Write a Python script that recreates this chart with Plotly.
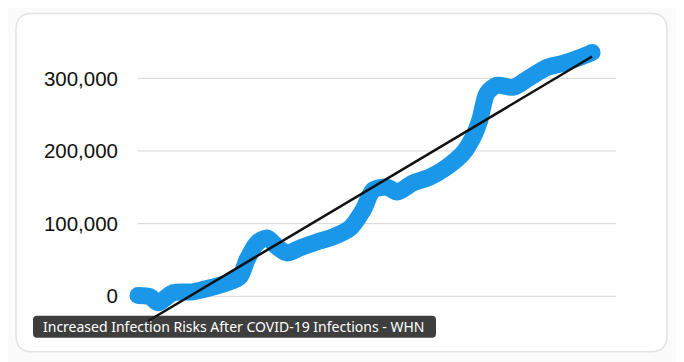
import plotly.graph_objects as go

# ---- data ----
weeks = [0, 2.5, 4.2, 7.3, 11.5, 15.1, 18.6, 21.3, 22.8, 24.9, 27.0, 29.1, 31.2, 33.9,
         37.4, 40.8, 44.4, 47.1, 49.2, 52.1, 54.2, 57.5, 61.1, 64.6, 68.0, 70.1, 71.5,
         73.0, 75.1, 78.5, 82.0, 85.6, 88.9, 92.5, 95.0]
cases = [1000, -500, -9000, 4800, 6200, 11700, 18500, 26800, 50100, 73500, 80300, 68000,
         59700, 66600, 74800, 81700, 94000, 118800, 146200, 150300, 143500, 155800, 164100,
         177800, 197000, 219000, 242300, 279400, 290400, 287700, 301400, 315100, 320600,
         328800, 335600]
trend_x = [2.1, 95.0]
trend_y = [-34000, 330000]
tick_vals = [0, 100000, 200000, 300000]
tick_text = ["0", "100,000", "200,000", "300,000"]
caption = "Increased Infection Risks After COVID-19 Infections - WHN"

# ---- layout geometry (screen pixels; page body adds an 8px offset) ----
OFF = 8
W, H = 684 - OFF, 362 - OFF
L, R = 125 - OFF, 630 - OFF          # plot area left/right (figure px)
T, B = 41.6 - OFF, 329.3 - OFF       # plot area top/bottom (figure px)
X0PX, XPX = 138 - OFF, 4.78          # px of x=0, px per unit
x_range = [(L - X0PX) / XPX, (R - X0PX) / XPX]
y_range = [-45000, 350000]


def px(xp):
    return (xp - OFF - L) / (R - L)


def py(yp):
    return (B - (yp - OFF)) / (B - T)


def rounded_rect(x0, y0, x1, y1, r):
    pts = [
        f"M {px(x0 + r)} {py(y0)}",
        f"L {px(x1 - r)} {py(y0)}",
        f"Q {px(x1)} {py(y0)} {px(x1)} {py(y0 + r)}",
        f"L {px(x1)} {py(y1 - r)}",
        f"Q {px(x1)} {py(y1)} {px(x1 - r)} {py(y1)}",
        f"L {px(x0 + r)} {py(y1)}",
        f"Q {px(x0)} {py(y1)} {px(x0)} {py(y1 - r)}",
        f"L {px(x0)} {py(y0 + r)}",
        f"Q {px(x0)} {py(y0)} {px(x0 + r)} {py(y0)}",
        "Z",
    ]
    return " ".join(pts)


BLUE = "#1a97e8"
fig = go.Figure()

msize = [17] + [0] * (len(cases) - 2) + [17]
fig.add_trace(go.Scatter(
    x=weeks, y=cases, mode="lines+markers",
    line=dict(color=BLUE, width=17, shape="spline", smoothing=0.8),
    marker=dict(size=msize, color=BLUE, opacity=1, line=dict(width=0)),
    hoverinfo="skip", showlegend=False,
))
fig.add_trace(go.Scatter(
    x=trend_x, y=trend_y, mode="lines",
    line=dict(color="#111111", width=2.5),
    hoverinfo="skip", showlegend=False,
))

shapes = []
# card
shapes.append(dict(type="path", xref="paper", yref="paper",
                   path=rounded_rect(16, 13, 667, 352, 16),
                   fillcolor="white", line=dict(color="#e3e3e6", width=1.5),
                   layer="below"))
# gridlines
for v in tick_vals:
    shapes.append(dict(type="line", xref="x", yref="y", x0=0, x1=100, y0=v, y1=v,
                       line=dict(color="#d6d6d6", width=1), layer="below"))
# caption box
shapes.append(dict(type="path", xref="paper", yref="paper",
                   path=rounded_rect(33, 316, 436, 338, 4),
                   fillcolor="rgba(28,28,28,0.85)", line=dict(width=0),
                   layer="above"))

fig.update_layout(
    width=W, height=H,
    margin=dict(l=L, r=W - R, t=T, b=H - B, pad=0),
    paper_bgcolor="#fbfbfb", plot_bgcolor="rgba(0,0,0,0)",
    shapes=shapes,
    xaxis=dict(range=x_range, showgrid=False, zeroline=False, showticklabels=False,
               showline=False, fixedrange=True),
    yaxis=dict(range=y_range, tickvals=tick_vals, ticktext=tick_text,
               showgrid=False, zeroline=False, showline=False, ticks="",
               ticklabelstandoff=6,
               tickfont=dict(family="Liberation Sans, Arial", size=20.5, color="#111111")),
    annotations=[dict(
        text=caption, xref="paper", yref="paper", x=px(41), y=py(327),
        xanchor="left", yanchor="middle", showarrow=False,
        font=dict(family="Noto Sans", size=14, color="white"),
    )],
)

fig.write_html("out.html")
